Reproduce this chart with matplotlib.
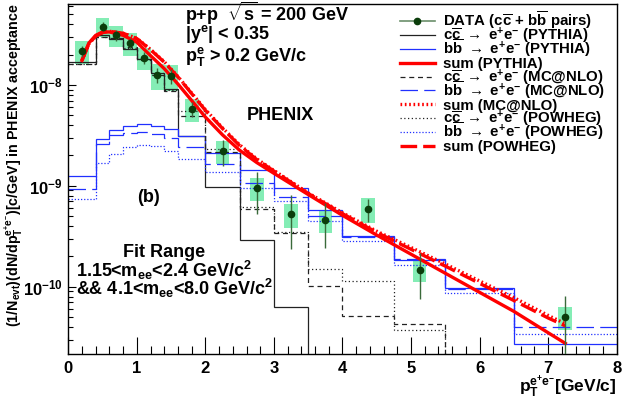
import numpy as np
import matplotlib
matplotlib.use("Agg")
import matplotlib.pyplot as plt
from matplotlib.lines import Line2D
from matplotlib.ticker import FixedLocator, LogLocator

plt.rcParams['font.family'] = ['Liberation Sans', 'DejaVu Sans']
plt.rcParams['font.weight'] = 'bold'
plt.rcParams['mathtext.fontset'] = 'custom'
plt.rcParams['mathtext.rm'] = 'Liberation Sans:bold'
plt.rcParams['mathtext.it'] = 'Liberation Sans:bold'
plt.rcParams['mathtext.bf'] = 'Liberation Sans:bold'
plt.rcParams['mathtext.sf'] = 'Liberation Sans:bold'
plt.rcParams['mathtext.default'] = 'rm'

# bin edges of the MC histograms
edges = [0, 0.4, 0.6, 0.8, 1.0, 1.2, 1.4, 1.6, 2.0, 2.5, 3.0, 3.5, 4.0, 4.75, 5.5, 6.5, 8.0]

cc_pythia = [1.7e-8, 3.13e-8, 2.83e-8, 2.25e-8, 1.8e-8, 1.3e-8, 9.1e-9, 3.1e-9,
             9.8e-10, 2.9e-10, 6.3e-11, 0, 0, 0, 0, 0]
bb_pythia = [1.24e-9, 2.9e-9, 3.58e-9, 3.93e-9, 4.1e-9, 3.93e-9, 3.64e-9, 3.09e-9,
             2.1e-9, 1.44e-9, 9.5e-10, 5.8e-10, 3.2e-10, 1.85e-10, 9.7e-11, 2.7e-11]
cc_mcnlo = [1.62e-8, 3.0e-8, 2.9e-8, 2.35e-8, 1.75e-8, 1.25e-8, 8.7e-9, 4.9e-9,
            2.15e-9, 5.9e-10, 3.4e-10, 1.02e-10, 5.1e-11, 4.3e-11, 0, 0]
bb_mcnlo = [9.3e-10, 2.6e-9, 3.2e-9, 3.37e-9, 3.4e-9, 3.3e-9, 2.96e-9, 2.45e-9,
            1.65e-9, 1.06e-9, 7.7e-10, 5.0e-10, 3.1e-10, 1.9e-10, 9.5e-11, 4.0e-11]
cc_powheg = [1.6e-8, 3.0e-8, 2.95e-8, 2.3e-8, 1.8e-8, 1.3e-8, 9.0e-9, 5.5e-9,
             2.3e-9, 6.2e-10, 3.5e-10, 1.5e-10, 1.15e-10, 3.7e-11, 0, 0]
bb_powheg = [7.4e-10, 1.7e-9, 2.06e-9, 2.45e-9, 2.55e-9, 2.5e-9, 2.19e-9, 1.85e-9,
             1.37e-9, 9.6e-10, 7.0e-10, 4.5e-10, 2.85e-10, 1.66e-10, 8.7e-11, 3.4e-11]

# fitted sums
sum_x = [0.2, 0.3, 0.4, 0.5, 0.6, 0.8, 1.0, 1.2, 1.4, 1.6, 1.8, 2.0, 2.25, 2.5, 2.75,
         3.0, 3.5, 4.0, 4.5, 5.0, 5.5, 6.0, 6.5, 7.0, 7.25]
sum_pythia = [1.75e-8, 2.6e-8, 3.1e-8, 3.35e-8, 3.35e-8, 3.1e-8, 2.65e-8, 1.95e-8, 1.45e-8,
              1.02e-8, 7.0e-9, 4.8e-9, 3.2e-9, 2.25e-9, 1.7e-9, 1.33e-9, 8.2e-10, 5.1e-10,
              3.25e-10, 2.1e-10, 1.36e-10, 8.8e-11, 5.7e-11, 3.5e-11, 2.75e-11]
sum_mcnlo = [1.75e-8, 2.55e-8, 3.05e-8, 3.3e-8, 3.4e-8, 3.25e-8, 2.9e-8, 2.25e-8, 1.7e-8,
             1.21e-8, 8.3e-9, 5.7e-9, 3.75e-9, 2.55e-9, 1.85e-9, 1.42e-9, 8.5e-10, 5.4e-10,
             3.55e-10, 2.45e-10, 1.68e-10, 1.14e-10, 7.8e-11, 5.2e-11, 4.3e-11]
sum_powheg = [1.75e-8, 2.55e-8, 3.05e-8, 3.3e-8, 3.4e-8, 3.25e-8, 2.88e-8, 2.23e-8, 1.68e-8,
              1.2e-8, 8.2e-9, 5.6e-9, 3.7e-9, 2.5e-9, 1.82e-9, 1.4e-9, 8.4e-10, 5.3e-10,
              3.45e-10, 2.35e-10, 1.6e-10, 1.08e-10, 7.3e-11, 4.9e-11, 4.1e-11]

# data
data_x = [0.2, 0.5, 0.7, 0.9, 1.1, 1.3, 1.5, 1.8, 2.25, 2.75, 3.25, 3.75, 4.375, 5.125, 7.25]
data_y = [2.17e-8, 3.78e-8, 3.13e-8, 2.59e-8, 1.86e-8, 1.26e-8, 1.23e-8, 5.8e-9, 2.22e-9,
          9.5e-10, 5.25e-10, 4.6e-10, 5.9e-10, 1.45e-10, 5.0e-11]
data_stat = [2.6e-9, 3.8e-9, 3.8e-9, 3.4e-9, 2.4e-9, 2.1e-9, 2.0e-9, 1.0e-9, 6.5e-10,
             4.3e-10, 2.9e-10, 2.2e-10, 1.5e-10, 7.0e-11, 3.1e-11]
data_sys = [5.5e-9, 8.0e-9, 7.5e-9, 6.5e-9, 4.5e-9, 3.6e-9, 3.6e-9, 1.5e-9, 5.8e-10,
            2.5e-10, 1.4e-10, 1.2e-10, 1.6e-10, 3.3e-11, 1.3e-11]

fig = plt.figure(figsize=(6.23, 3.99), dpi=100)
ax = fig.add_axes([0.1096, 0.112, 0.8803, 0.878])
ax.set_yscale('log')

box_col = '#84EDB5'
ax.bar(data_x, 2 * np.array(data_sys), bottom=np.array(data_y) - np.array(data_sys),
       width=0.2, color=box_col, edgecolor='none', zorder=1)

def hist(vals, **kw):
    ax.stairs(np.maximum(vals, 1e-14), edges, baseline=None, zorder=2, **kw)

hist(cc_pythia, color='#222222', lw=0.9)
hist(bb_pythia, color='#2030ff', lw=0.9)
hist(cc_mcnlo, color='#222222', lw=0.9, linestyle=(0, (4, 3)))
hist(bb_mcnlo, color='#2030ff', lw=0.9, linestyle=(0, (14, 5)))
hist(cc_powheg, color='#222222', lw=0.9, linestyle=(0, (1, 2)))
hist(bb_powheg, color='#2030ff', lw=0.9, linestyle=(0, (1, 1.5)))

dot_ls = (0, (0.5, 0.8))
dash_ls = (0, (5, 1.8))
ax.plot(sum_x, sum_pythia, color='red', lw=2.4, zorder=3)
ax.plot(sum_x, sum_mcnlo, color='red', lw=2.4, linestyle=dot_ls, zorder=3)
ax.plot(sum_x, sum_powheg, color='red', lw=2.4, linestyle=dash_ls, zorder=3)

ax.errorbar(data_x, data_y, yerr=data_stat, fmt='o', color='#0b3d0b', ms=4.5,
            ecolor='#3a6a3a', elinewidth=1, capsize=0, zorder=4)

ax.set_xlim(0, 8)
ax.set_ylim(2.14e-11, 6.34e-8)
ax.yaxis.set_major_locator(FixedLocator([1e-10, 1e-9, 1e-8]))
ax.yaxis.set_minor_locator(LogLocator(base=10, subs=np.arange(2, 10)))
ax.set_xticks(range(0, 9))
ax.set_xticks(np.arange(0, 8.01, 0.2), minor=True)
ax.tick_params(which='both', direction='in', top=False, right=False, labelsize=12, width=0.8)
ax.tick_params(axis='x', which='major', length=12.5, pad=4.5)
ax.tick_params(axis='x', which='minor', length=6)
ax.tick_params(axis='y', which='major', length=6, pad=4)
ax.tick_params(axis='y', which='minor', length=3.5, labelleft=False)
for s in ax.spines.values():
    s.set_linewidth(1)

# axis titles
ax.text(1.0, -0.108, r'p$_{T}^{e^{+}e^{-}}$[GeV/c]', transform=ax.transAxes,
        ha='right', va='baseline', fontsize=12.5)
fig.text(14 / 623, 1 - 3 / 399,
         r'(1/N$_{evt}$)(dN/dp$_{T}^{e^{+}e^{-}}$)[c/GeV] in PHENIX acceptance',
         rotation=90, ha='center', va='top', fontsize=10.3)

# annotations
tk = dict(transform=ax.transAxes, fontsize=13, va='baseline', ha='left')
ax.text(0.213, 0.952, r'p+p  $\sqrt{s}$ = 200 GeV', **tk)
ax.text(0.213, 0.9005, r'|y$^{e}$| < 0.35', **tk)
ax.text(0.213, 0.838, r'p$_{T}^{e}$ > 0.2 GeV/c', **tk)
ax.text(0.326, 0.668, 'PHENIX', **tk)
ax.text(0.1247, 0.4356, '(b)', **tk)
ax.text(0.0997, 0.2786, 'Fit Range', **tk)
ax.text(0.014, 0.2215, r'1.15<m$_{ee}$<2.4 GeV/c$^{2}$', **tk)
ax.text(0.014, 0.1693, r'&& 4.1<m$_{ee}$<8.0 GeV/c$^{2}$', **tk)

# legend drawn by hand
leg = [
    (r'DATA (c$\overline{c}$ + b$\overline{b}$ pairs)', dict(color='#6b8f6b', lw=1.2), True),
    (r'c$\overline{c}$ $\rightarrow$ e$^{+}$e$^{-}$ (PYTHIA)', dict(color='#222222', lw=0.9), False),
    (r'b$\overline{b}$ $\rightarrow$ e$^{+}$e$^{-}$ (PYTHIA)', dict(color='#2030ff', lw=0.9), False),
    ('sum (PYTHIA)', dict(color='red', lw=2.4), False),
    (r'c$\overline{c}$ $\rightarrow$ e$^{+}$e$^{-}$ (MC@NLO)', dict(color='#222222', lw=0.9, ls=(0, (4, 3))), False),
    (r'b$\overline{b}$ $\rightarrow$ e$^{+}$e$^{-}$ (MC@NLO)', dict(color='#2030ff', lw=0.9, ls=(0, (14, 5))), False),
    ('sum (MC@NLO)', dict(color='red', lw=2.4, ls=dot_ls), False),
    (r'c$\overline{c}$ $\rightarrow$ e$^{+}$e$^{-}$ (POWHEG)', dict(color='#222222', lw=0.9, ls=(0, (1, 2))), False),
    (r'b$\overline{b}$ $\rightarrow$ e$^{+}$e$^{-}$ (POWHEG)', dict(color='#2030ff', lw=0.9, ls=(0, (1, 1.5))), False),
    ('sum (POWHEG)', dict(color='red', lw=2.4, ls=dash_ls), False),
]
x0, x1, xt = (400 - 68.3) / 548.4, (435 - 68.3) / 548.4, (443.3 - 68.3) / 548.4
for i, (lab, kw, mk) in enumerate(leg):
    py = 21 + 13.9 * i
    yc = (354.3 - py) / 350.3
    ax.add_artist(Line2D([x0, x1], [yc, yc], transform=ax.transAxes, clip_on=False, **kw))
    if mk:
        ax.add_artist(Line2D([(x0 + x1) / 2], [yc], transform=ax.transAxes, marker='o',
                             ms=4.5, color='#0b3d0b', clip_on=False))
    ax.text(xt, (354.3 - py - 5.3) / 350.3, lab, transform=ax.transAxes,
            fontsize=10.8, ha='left', va='baseline')

fig.savefig('out.png', dpi=100)
